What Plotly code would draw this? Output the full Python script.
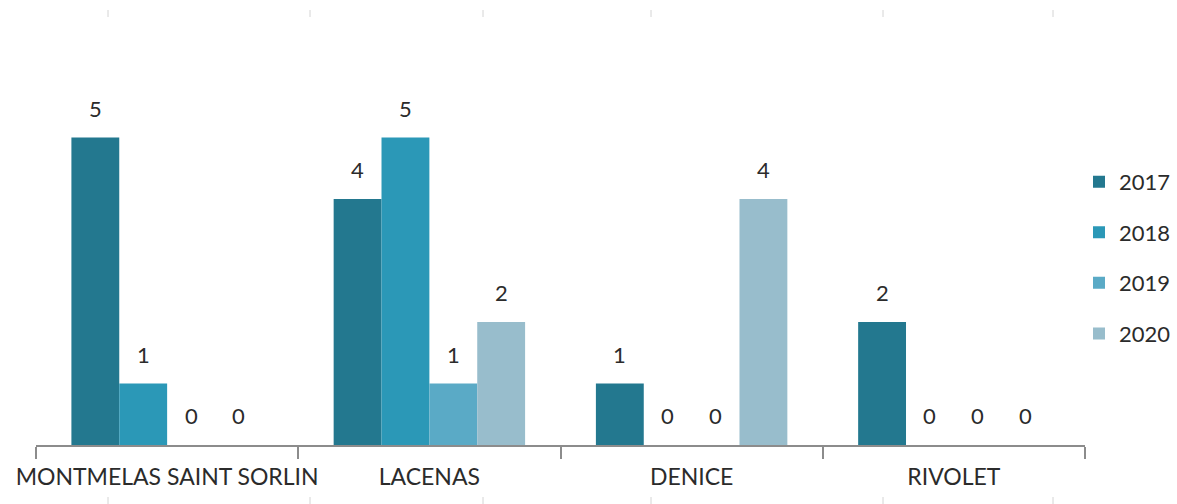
import plotly.graph_objects as go

categories = ["MONTMELAS SAINT SORLIN", "LACENAS", "DENICE", "RIVOLET"]
years = ["2017", "2018", "2019", "2020"]
v2017 = [5, 4, 1, 2]
v2018 = [1, 5, 0, 0]
v2019 = [0, 1, 0, 0]
v2020 = [0, 2, 4, 0]
series = [v2017, v2018, v2019, v2020]
colors = ["#23788f", "#2b98b7", "#5aaac6", "#98bdcc"]

W, H = 1177, 504
ML, MR, MT, MB = 36, 92, 76, 59
BARGAP = 0.27
YMAX = 6
FONT = "Lato, Carlito, Calibri, 'Liberation Sans', sans-serif"
TXT = "#2b2b2b"

fig = go.Figure()
for name, vals, col in zip(years, series, colors):
    fig.add_trace(go.Bar(
        name=name, x=categories, y=vals, legendgroup=name,
        marker=dict(color=col, line=dict(width=0)),
    ))

# data labels above bars
plot_w = W - ML - MR
cat_px = plot_w / len(categories)
bar_px = cat_px * (1 - BARGAP) / len(series)
n = len(series)
for j, vals in enumerate(series):
    for cat, v in zip(categories, vals):
        fig.add_annotation(
            x=cat, y=v, xref="x", yref="y", text=str(v), showarrow=False,
            xanchor="center", yanchor="bottom",
            xshift=(j - (n - 1) / 2) * bar_px, yshift=14,
            font=dict(family=FONT, size=22, color=TXT),
        )

# faint decorative tick fragments at top and bottom edges
plot_h = H - MT - MB
def px_x(p):
    return (p - ML) / plot_w
def px_y(p):
    return (H - MB - p) / plot_h
frag_x = [108, 310, 483, 651, 883, 1053]
for fx in frag_x:
    for y0, y1 in [(10, 17), (497, 504)]:
        fig.add_shape(type="line", xref="paper", yref="paper",
                      x0=px_x(fx), x1=px_x(fx), y0=px_y(y0), y1=px_y(y1),
                      line=dict(color="#d4d4d4", width=1))

fig.update_layout(
    width=W, height=H,
    margin=dict(l=ML, r=MR, t=MT, b=MB, pad=0, autoexpand=False),
    paper_bgcolor="white", plot_bgcolor="white",
    barmode="group", bargap=BARGAP, bargroupgap=0,
    showlegend=True,
    legend=dict(
        x=px_x(1079), xanchor="left", y=0.770, yanchor="top",
        font=dict(family=FONT, size=22, color=TXT),
        traceorder="grouped", tracegroupgap=19,
        bgcolor="rgba(0,0,0,0)",
    ),
    font=dict(family=FONT, color=TXT),
)
fig.update_xaxes(
    showline=True, linecolor="#8c8c8c", linewidth=2,
    ticks="outside", ticklen=12, tickcolor="#8c8c8c", tickwidth=2,
    tickson="boundaries", showgrid=False, zeroline=False,
    tickangle=0, automargin=False,
    tickfont=dict(family=FONT, size=23, color=TXT), ticklabelstandoff=10,
)
fig.update_yaxes(
    range=[0, YMAX], visible=False, showgrid=False, zeroline=False,
)

fig.write_html(
    "out.html",
    config={"displayModeBar": False},
    post_script="document.body.style.margin='0px';document.body.style.overflow='hidden';",
)
